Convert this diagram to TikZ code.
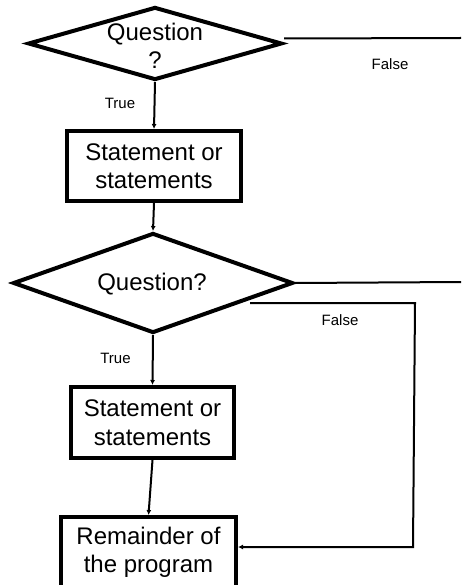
\documentclass[tikz,border=0pt]{standalone}
\usepackage{fontspec}
\setmainfont{Liberation Sans}
\usetikzlibrary{shapes.geometric,arrows.meta}

\tikzset{
  decision/.style={diamond, draw, line width=4pt, inner sep=0pt, aspect=1},
  stepbox/.style={rectangle, draw, line width=4pt, inner sep=0pt, align=center,
    font=\fontsize{24}{28.5}\selectfont},
  bigtext/.style={inner sep=0pt, align=center, font=\fontsize{24}{27.5}\selectfont},
  smalltext/.style={inner sep=0pt, font=\fontsize{15}{18}\selectfont},
  conn/.style={line width=2pt},
  arrow/.style={conn, -{Latex[length=5pt,width=5pt]}}
}

\begin{document}
\begin{tikzpicture}[x=1pt, y=-1pt]
  \useasboundingbox (0,0) rectangle (461,585);
  \clip (0,0) rectangle (461,585);

  % first decision and its branch
  \node[decision, minimum width=254pt, minimum height=73pt] (d1) at (155,43.5) {};
  \node[bigtext] (q1) at (155,46) {Question\\?};
  \node[stepbox, minimum width=174pt, minimum height=70pt] (b1) at (154,166)
    {Statement or\\statements};

  % second decision and its branch
  \node[decision, minimum width=280pt, minimum height=100pt] (d2) at (153,283) {};
  \node[bigtext] (q2) at (152,284) {Question?};
  \node[stepbox, minimum width=163pt, minimum height=71pt] (b2) at (152.5,422.5)
    {Statement or\\statements};
  \node[stepbox, minimum width=175pt, minimum height=71pt] (b3) at (148.5,552.5)
    {Remainder of\\the program};

  % branch labels
  \node[smalltext] (t1) at (120,103.5) {True};
  \node[smalltext] (f1) at (390,64) {False};
  \node[smalltext] (t2) at (115.5,358.5) {True};
  \node[smalltext] (f2) at (340,320.5) {False};

  % free ends of the false branches
  \coordinate (e1) at (461,38);
  \coordinate (e2) at (461,282);
  \coordinate (ra) at (250,303);
  \coordinate (rb) at (415,303);
  \coordinate (rc) at (413,547);

  % connectors
  \draw[conn] ([yshift=5pt]d1.east) -- (e1);
  \draw[arrow] (d1.south) -- (b1.north);
  \draw[arrow] (b1.south) -- (d2.north);
  \draw[conn] (d2.east) -- (e2);
  \draw[arrow] (d2.south) -- (b2.north);
  \draw[arrow] (b2.south) -- (b3.north);
  \draw[arrow] (ra) -- (rb) -- (rc) -- (rc -| b3.east);
\end{tikzpicture}
\end{document}
